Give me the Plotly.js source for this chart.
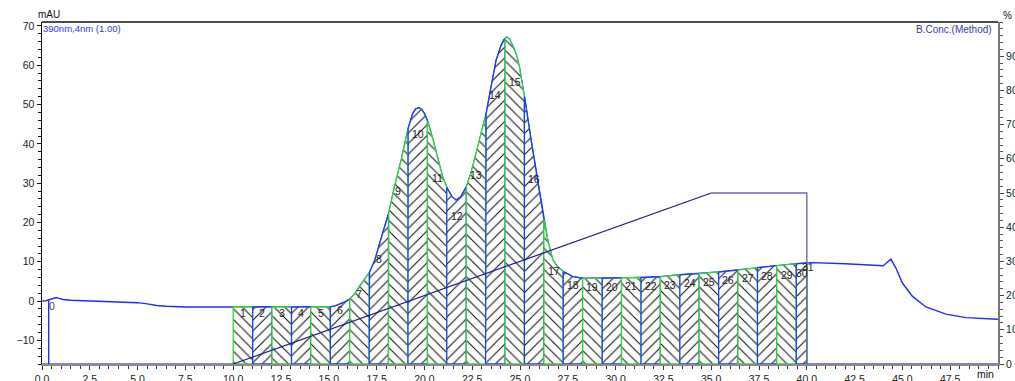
<!DOCTYPE html>
<html>
<head>
<meta charset="utf-8">
<script src="https://cdn.plot.ly/plotly-3.0.1.min.js"></script>
<style>
html,body{margin:0;padding:0;background:#fff;}
#chart{width:1015px;height:381px;}
</style>
</head>
<body>
<div id="chart"></div>
<script>
// ---- data ----
const time = [0.00,0.20,0.40,0.60,0.75,0.90,1.10,1.50,2.50,3.50,4.50,5.00,5.50,6.00,6.50,7.50,10.00,15.00,15.30,15.60,15.85,16.10,16.35,16.60,16.85,17.13,17.40,17.65,17.90,18.14,18.44,18.79,19.15,19.39,19.55,19.71,19.85,20.00,20.18,20.45,20.70,20.95,21.19,21.45,21.66,21.90,22.20,22.45,22.71,22.97,23.23,23.49,23.75,24.01,24.15,24.31,24.45,24.62,24.80,24.97,25.25,25.58,25.93,26.24,26.45,26.71,26.95,27.27,27.76,28.28,29.30,30.31,31.33,32.34,33.36,34.37,35.39,36.40,37.42,38.43,39.45,40.00,40.30,42.00,43.80,44.00,44.40,44.66,45.00,45.53,46.23,47.28,48.32,50.00];
const signal = [0.0,0.1,0.4,0.8,0.9,0.7,0.4,0.2,0.0,-0.1,-0.3,-0.4,-0.7,-1.1,-1.3,-1.5,-1.5,-1.5,-1.3,-0.8,-0.2,0.5,1.8,3.7,5.4,7.3,10.3,14.2,18.6,22.5,29.1,35.9,43.9,47.7,48.9,49.2,48.8,47.7,45.6,41.0,35.9,31.6,28.7,26.5,25.7,26.5,29.1,32.8,37.6,42.5,47.7,54.5,61.2,65.0,66.5,67.2,66.6,65.0,62.8,59.5,51.5,40.9,30.8,21.1,15.5,10.5,8.8,7.5,6.2,5.8,5.8,5.9,6.0,6.2,6.7,7.0,7.4,7.9,8.5,9.0,9.5,9.7,9.8,9.5,9.0,9.0,10.7,8.4,4.6,1.2,-1.5,-3.3,-4.2,-4.6];
const fractionBounds = [10.00,11.02,12.03,13.05,14.06,15.08,16.09,17.11,18.12,19.14,20.16,21.17,22.19,23.20,24.22,25.23,26.25,27.26,28.28,29.30,30.31,31.33,32.34,33.36,34.37,35.39,36.40,37.42,38.43,39.45,40.00,40.03];
const fractionLabels = ['1','2','3','4','5','6','7','8','9','10','11','12','13','14','15','16','17','18','19','20','21','22','23','24','25','26','27','28','29','30','31'];
const gradTime = [0,10,35,40,40,50];
const gradConc = [0,0,50,50,0,0];
const injectionTime = 0.35;
const xTickVals = [0,2.5,5,7.5,10,12.5,15,17.5,20,22.5,25,27.5,30,32.5,35,37.5,40,42.5,45,47.5];
const xTickText = ['0.0','2.5','5.0','7.5','10.0','12.5','15.0','17.5','20.0','22.5','25.0','27.5','30.0','32.5','35.0','37.5','40.0','42.5','45.0','47.5'];
const yTickVals = [-10,0,10,20,30,40,50,60,70];
const y2TickVals = [0,10,20,30,40,50,60,70,80,90];

// ---- styling ----
const Y_MIN = -16, Y_MAX = 71;
const GREEN = '#33d633', BLUE = '#1a40e8', SIG = '#1f2cff';
const FONT = 'Liberation Sans, Arial, sans-serif';

function interp(x){
  for(let i=0;i<time.length-1;i++){
    if(x>=time[i] && x<=time[i+1]){
      const t=(x-time[i])/(time[i+1]-time[i]);
      return signal[i]+t*(signal[i+1]-signal[i]);
    }
  }
  return signal[signal.length-1];
}

const traces = [];
traces.push({x: time, y: signal, mode:'lines', line:{color:SIG, width:1.4}, hoverinfo:'skip'});

const annotations = [];
for(let k=0;k<fractionLabels.length;k++){
  const a=fractionBounds[k], b=fractionBounds[k+1];
  const xs=[a,a], ys=[Y_MIN, interp(a)];
  for(let i=0;i<time.length;i++){ if(time[i]>a && time[i]<b){ xs.push(time[i]); ys.push(signal[i]); } }
  xs.push(b,b,a); ys.push(interp(b),Y_MIN,Y_MIN);
  const odd = (k%2===0);
  traces.push({
    x: xs, y: ys, mode:'lines', fill:'toself', fillcolor:'#ffffff',
    fillpattern:{shape: odd ? '\\' : '/', fgcolor:'#111111', bgcolor:'#ffffff', size:7.5, solidity:0.14, fillmode:'replace'},
    line:{color: odd ? GREEN : BLUE, width:1.3}, hoverinfo:'skip'
  });
  const c=(a+b)/2;
  const top=interp(c);
  annotations.push({x: k===fractionLabels.length-1 ? c+0.05 : c, y: Y_MIN+0.9*(top-Y_MIN) + (k===fractionLabels.length-1 ? 1.5 : 0), xref:'x', yref:'y', text: fractionLabels[k], showarrow:false, font:{family:FONT, size:10.5, color:'#222'}, xanchor:'center', yanchor:'middle'});
}

// injection marker
traces.push({x:[injectionTime,injectionTime], y:[interp(injectionTime), Y_MIN], mode:'lines', line:{color:SIG, width:1.4}, hoverinfo:'skip'});
annotations.push({x:injectionTime, y:-1.2, xref:'x', yref:'y', text:'0', showarrow:false, font:{family:FONT, size:10.5, color:'#444'}, xanchor:'left', yanchor:'middle', xshift:-2});

// gradient (B conc.)
traces.push({x: gradTime.slice(0,3), y: gradConc.slice(0,3), yaxis:'y2', mode:'lines', line:{color:'#1c1c8a', width:1.2}, hoverinfo:'skip'});
traces.push({x: gradTime.slice(2,5), y: gradConc.slice(2,5), yaxis:'y2', mode:'lines', line:{color:'#6a6ab8', width:1.4}, hoverinfo:'skip'});
traces.push({x: gradTime.slice(4), y: gradConc.slice(4), yaxis:'y2', mode:'lines', line:{color:'#4a5ad8', width:1.4}, hoverinfo:'skip'});

annotations.push(
  {xref:'paper', yref:'paper', x:0, y:1, xanchor:'left', yanchor:'bottom', xshift:-6, yshift:0, text:'mAU', showarrow:false, font:{family:FONT, size:10, color:'#111'}},
  {xref:'paper', yref:'paper', x:0, y:1, xanchor:'left', yanchor:'top', xshift:-1, yshift:1, text:'390nm,4nm (1.00)', showarrow:false, font:{family:FONT, size:9.5, color:'#3333ff'}},
  {xref:'paper', yref:'paper', x:1, y:1, xanchor:'right', yanchor:'top', xshift:-4, yshift:0, text:'B.Conc.(Method)', showarrow:false, font:{family:FONT, size:10, color:'#3a3aaa'}},
  {xref:'paper', yref:'paper', x:1, y:1, xanchor:'left', yanchor:'bottom', xshift:3, yshift:-1, text:'%', showarrow:false, font:{family:FONT, size:10, color:'#111'}},
  {xref:'paper', yref:'paper', x:1, y:0, xanchor:'right', yanchor:'top', xshift:-2, yshift:-2, text:'min', showarrow:false, font:{family:FONT, size:10.5, color:'#111'}}
);

const layout = {
  width:1015, height:381,
  margin:{l:42, r:17, t:22, b:17, pad:0},
  paper_bgcolor:'#fff', plot_bgcolor:'#fff',
  showlegend:false,
  font:{family:FONT, size:10.5, color:'#222'},
  xaxis:{range:[0,50], tickmode:'array', tickvals:xTickVals, ticktext:xTickText, ticks:'outside', ticklen:4, tickcolor:'#333', showline:true, linecolor:'#8a8a8a', linewidth:2, showgrid:false, zeroline:false,
    minor:{dtick:0.5, ticks:'outside', ticklen:3, tickcolor:'#333', showgrid:false}, tickfont:{family:FONT, size:10.5, color:'#222'}},
  yaxis:{range:[Y_MIN,Y_MAX], tickmode:'array', tickvals:yTickVals, ticks:'outside', ticklen:4, tickcolor:'#111', showline:true, linecolor:'#111', linewidth:1.5, showgrid:false, zeroline:false,
    minor:{dtick:2, ticks:'outside', ticklen:2.5, tickcolor:'#111', showgrid:false}, tickfont:{family:FONT, size:10.5, color:'#222'}},
  yaxis2:{range:[0,100], overlaying:'y', side:'right', tickmode:'array', tickvals:y2TickVals, ticks:'outside', ticklen:4, tickcolor:'#444', showline:true, linecolor:'#777', linewidth:2, showgrid:false, zeroline:false,
    minor:{dtick:2, ticks:'outside', ticklen:2.5, tickcolor:'#555', showgrid:false}, tickfont:{family:FONT, size:10.5, color:'#222'}},
  shapes:[{type:'line', xref:'paper', yref:'paper', x0:0, x1:1, y0:1, y1:1, line:{color:'#111', width:1.5}}],
  annotations: annotations
};

Plotly.newPlot('chart', traces, layout, {staticPlot:true, displayModeBar:false});
</script>
</body>
</html>
